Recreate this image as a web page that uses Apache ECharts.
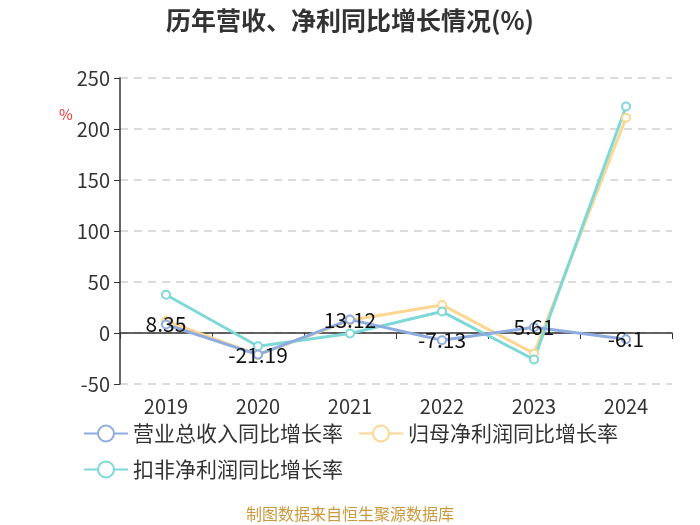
<!DOCTYPE html>
<html>
<head>
<meta charset="utf-8">
<script src="https://cdn.jsdelivr.net/npm/echarts@6/dist/echarts.min.js"></script>
<style>html,body{margin:0;padding:0;background:#fff;}#c{width:700px;height:525px;}</style>
</head>
<body>
<div id="c"></div>
<script>
var categories = ['2019', '2020', '2021', '2022', '2023', '2024'];
var revenueGrowth = [8.35, -21.19, 13.12, -7.13, 5.61, -6.1];
var netProfitGrowth = [11.8, -21.5, 12.5, 27.5, -20, 211];
var deductedProfitGrowth = [37.5, -13, -0.5, 21, -26, 222];
var seriesNames = ['营业总收入同比增长率', '归母净利润同比增长率', '扣非净利润同比增长率'];
var colors = ['#8eace0', '#fdd692', '#7fd8d8'];

var font = '"Noto Sans CJK SC", "Noto Sans", sans-serif';
var chart = echarts.init(document.getElementById('c'));
function mk(name, data, color, label) {
  return {
    name: name, type: 'line', data: data, xAxisIndex: 0,
    symbol: 'emptyCircle', symbolSize: 8,
    lineStyle: { width: 3, color: color },
    itemStyle: { color: color, borderWidth: 2 },
    label: label ? { show: true, position: 'inside', color: '#111', fontSize: 21, fontFamily: font } : { show: false },
    z: label ? 5 : 3
  };
}
chart.setOption({
  animation: false,
  color: colors,
  title: {
    text: '历年营收、净利同比增长情况(%)', left: 'center', top: 3,
    textStyle: { fontSize: 25, fontWeight: 'bold', color: '#333', fontFamily: font }
  },
  legend: {
    left: 78, top: 418, width: 570, itemWidth: 44, itemHeight: 20, itemGap: 15,
    textStyle: { fontSize: 21, color: '#333', fontFamily: font },
    data: seriesNames
  },
  grid: { left: 120, right: 28, top: 78, bottom: 141 },
  xAxis: [{
    type: 'category', data: categories, position: 'bottom',
    axisLine: { show: false, onZero: false }, axisTick: { show: false },
    axisLabel: { fontSize: 20, color: '#333', fontFamily: font, margin: 12 }
  }, {
    type: 'category', data: categories, position: 'top',
    axisLine: { show: true, onZero: true, lineStyle: { color: '#333', width: 1.5 } },
    axisTick: { show: true, inside: true, length: 6, lineStyle: { color: '#333' } },
    axisLabel: { show: false }
  }],
  yAxis: {
    type: 'value', min: -50, max: 250, interval: 50,
    axisLine: { show: true, lineStyle: { color: '#333', width: 1.5 } },
    axisTick: { show: true, length: 6, lineStyle: { color: '#333' } },
    axisLabel: { fontSize: 20, color: '#333', fontFamily: font, margin: 10 },
    splitLine: { lineStyle: { type: [8, 6], color: '#d0d0d0', width: 1.5 } }
  },
  graphic: [{
    type: 'text', left: 59, top: 107, rotation: 0,
    style: { text: '%', fill: '#e53030', font: '15px ' + font }
  }, {
    type: 'text', left: 'center', top: 506,
    style: { text: '制图数据来自恒生聚源数据库', fill: '#c9993c', font: '16px ' + font }
  }],
  series: [
    mk(seriesNames[0], revenueGrowth, colors[0], true),
    mk(seriesNames[1], netProfitGrowth, colors[1], false),
    mk(seriesNames[2], deductedProfitGrowth, colors[2], false)
  ]
});
</script>
</body>
</html>
